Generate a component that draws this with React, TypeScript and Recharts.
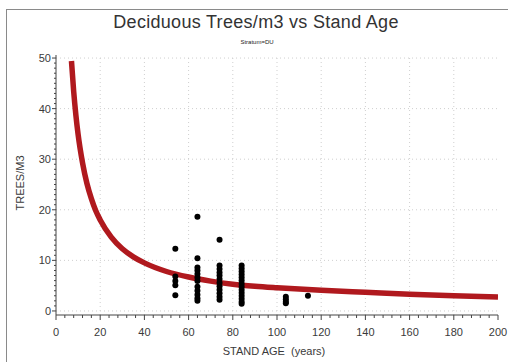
import React from 'react';
import { ComposedChart, Line, Scatter, XAxis, YAxis, ReferenceLine } from 'recharts';

const curveAge = [7, 8, 9, 10, 12, 14, 16, 18, 20, 25, 30, 35, 40, 50, 60, 70, 80, 90, 100, 120, 140, 160, 180, 200];
const curveTrees = [49.4, 43.4, 38.7, 34.9, 29.3, 25.2, 22.2, 19.8, 18.0, 14.6, 12.3, 10.7, 9.5, 7.8, 6.7, 5.9, 5.3, 4.9, 4.6, 4.1, 3.7, 3.3, 3.0, 2.75];

const obsAges = [54, 64, 74, 84, 104, 114];
const obsTrees = [
  [12.3, 6.8, 5.9, 5.1, 3.1],
  [18.6, 10.4, 8.6, 8.0, 7.3, 6.6, 5.9, 4.8, 4.0, 3.2, 2.5, 2.0],
  [14.1, 9.0, 8.3, 7.6, 7.0, 6.3, 5.6, 4.9, 4.2, 3.5, 2.8, 2.2],
  [9.0, 8.4, 7.8, 7.2, 6.6, 6.0, 5.4, 4.8, 4.2, 3.6, 3.0, 2.4, 1.8, 1.4],
  [2.8, 2.3, 1.8, 1.5],
  [3.0],
];

const xMajor = [0, 20, 40, 60, 80, 100, 120, 140, 160, 180, 200];
const xTicks = Array.from({ length: 51 }, (_, i) => i * 4);
const yMajor = [0, 10, 20, 30, 40, 50];
const yTicks = Array.from({ length: 51 }, (_, i) => i);

const curveData = curveAge.map((x, i) => ({ x, y: curveTrees[i] }));
const obsData = obsAges.flatMap((x, i) => obsTrees[i].map(y => ({ x, y })));

const FONT = '"Liberation Sans", Arial, sans-serif';
const TEXT = '#3a3a3a';
const GRID = '#cfcfcf';

const XTick = ({ x, y, payload }: any) => {
  const major = payload.value % 20 === 0;
  return (
    <g>
      <line x1={x} x2={x} y1={y} y2={y + (major ? 5 : 3)} stroke="#444" strokeWidth={1} />
      {major && (
        <text x={x} y={y + 21} textAnchor="middle" fontSize={11} fill={TEXT} fontFamily={FONT}>
          {payload.value}
        </text>
      )}
    </g>
  );
};

const YTick = ({ x, y, payload }: any) => {
  const major = payload.value % 10 === 0;
  return (
    <g>
      <line x1={x} x2={x - (major ? 4 : 2)} y1={y} y2={y} stroke="#444" strokeWidth={1} />
      {major && (
        <text x={x - 5} y={y + 4} textAnchor="end" fontSize={11} fill={TEXT} fontFamily={FONT}>
          {payload.value}
        </text>
      )}
    </g>
  );
};

const Dot = ({ cx, cy }: any) => <circle cx={cx} cy={cy} r={3} fill="#000" />;

export default function App() {
  return (
    <div style={{ position: 'absolute', left: 0, top: 0, width: 508, height: 362, overflow: 'hidden', background: '#fff' }}>
      <div style={{ position: 'absolute', left: 6, top: 9, width: 600, height: 500, border: '1px solid #8a8a8a' }} />
      <div style={{ position: 'absolute', left: 0, width: 512, top: 12, textAlign: 'center', fontFamily: FONT, fontSize: 18, letterSpacing: 0.3, color: '#333' }}>
        Deciduous Trees/m3 vs Stand Age
      </div>
      <div style={{ position: 'absolute', left: 0, width: 514, top: 39, textAlign: 'center', fontFamily: FONT, fontSize: 6, color: '#222' }}>
        Stratum=DU
      </div>
      <div style={{ position: 'absolute', left: 0, width: 508, top: 345, textAlign: 'center', fontFamily: FONT, fontSize: 11, color: TEXT, paddingLeft: 20, whiteSpace: 'pre' }}>
        STAND AGE  (years)
      </div>
      <div style={{ position: 'absolute', left: 20, top: 183, width: 0, height: 0 }}>
        <div style={{ position: 'absolute', transform: 'translate(-50%, -50%) rotate(-90deg)', fontFamily: FONT, fontSize: 11, color: TEXT, whiteSpace: 'nowrap' }}>
          TREES/M3
        </div>
      </div>
      <div style={{ position: 'absolute', left: 0, top: 0 }}>
        <ComposedChart width={508} height={362} margin={{ top: 55, right: 10, bottom: 0, left: 0 }}>
          <XAxis
            type="number"
            dataKey="x"
            domain={[0, 200]}
            ticks={xTicks}
            interval={0}
            tickSize={0}
            tickMargin={0}
            tickLine={false}
            tick={<XTick />}
            axisLine={{ stroke: '#444' }}
            height={47}
            allowDataOverflow
          />
          <XAxis xAxisId="top" orientation="top" type="number" domain={[0, 200]} height={0} tick={false} tickLine={false} axisLine={{ stroke: '#888' }} />
          <YAxis
            type="number"
            dataKey="y"
            domain={[-0.8, 50.6]}
            ticks={yTicks}
            interval={0}
            tickSize={0}
            tickMargin={0}
            tickLine={false}
            tick={<YTick />}
            axisLine={{ stroke: '#444' }}
            width={56}
            allowDataOverflow
          />
          <YAxis yAxisId="right" orientation="right" type="number" domain={[0, 50]} width={0} tick={false} tickLine={false} axisLine={{ stroke: '#888' }} />
          {xMajor.slice(1, -1).map(v => (
            <ReferenceLine key={`gx${v}`} x={v} stroke={GRID} strokeDasharray="1 3" />
          ))}
          {yMajor.slice(1).map(v => (
            <ReferenceLine key={`gy${v}`} y={v} stroke={GRID} strokeDasharray="1 3" />
          ))}
          <ReferenceLine y={0} stroke={GRID} strokeDasharray="1 3" />
          <Scatter data={obsData} dataKey="y" shape={<Dot />} isAnimationActive={false} />
          <Line data={curveData} dataKey="y" type="monotone" stroke="#b0191e" strokeWidth={5.5} dot={false} isAnimationActive={false} />
        </ComposedChart>
      </div>
    </div>
  );
}
